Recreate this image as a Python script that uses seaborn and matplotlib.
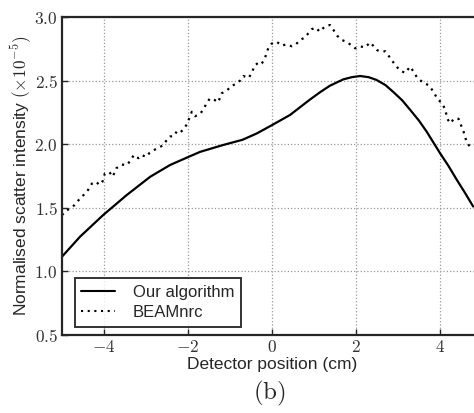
import pandas as pd
import seaborn as sns
import matplotlib.pyplot as plt

# Our algorithm (smooth curve)
algo_x = [-5.0, -4.57, -4.02, -3.46, -2.90, -2.43, -1.99, -1.71, -1.16, -0.7, -0.36, 0.0, 0.43,
          0.90, 1.15, 1.38, 1.70, 1.90, 2.10, 2.30, 2.49, 2.70, 2.89, 3.10, 3.29, 3.50, 3.68, 4.0,
          4.20, 4.40, 4.60, 4.79]
algo_y = [1.116, 1.273, 1.443, 1.60, 1.744, 1.836, 1.90, 1.94, 1.994, 2.035, 2.085, 2.15, 2.23,
          2.35, 2.41, 2.46, 2.51, 2.527, 2.536, 2.527, 2.505, 2.465, 2.41, 2.345, 2.27, 2.185, 2.10,
          1.93, 1.83, 1.72, 1.615, 1.51]

# BEAMnrc (noisy Monte Carlo)
beam_x = [-5.0, -4.89, -4.77, -4.65, -4.56, -4.45, -4.37, -4.29, -4.19, -4.11, -4.03, -3.98, -3.87,
          -3.79, -3.71, -3.58, -3.46, -3.36, -3.29, -3.18, -3.10, -3.0, -2.92, -2.83, -2.72, -2.60,
          -2.51, -2.43, -2.33, -2.27, -2.19, -2.10, -2.02, -1.91, -1.83, -1.71, -1.64, -1.56, -1.48,
          -1.38, -1.28, -1.20, -1.08, -0.96, -0.88, -0.76, -0.68, -0.56, -0.48, -0.42, -0.33, -0.25,
          -0.17, -0.09, -0.01, 0.11, 0.23, 0.35, 0.47, 0.57, 0.67, 0.79, 0.86, 0.95, 1.05, 1.13,
          1.21, 1.29, 1.38, 1.46, 1.55, 1.66, 1.76, 1.86, 1.98, 2.10, 2.21, 2.34, 2.50, 2.57, 2.70,
          2.82, 2.94, 3.05, 3.17, 3.29, 3.37, 3.45, 3.61, 3.73, 3.85, 3.93, 4.05, 4.13, 4.17, 4.25,
          4.33, 4.44, 4.56, 4.64, 4.72, 4.81]
beam_y = [1.443, 1.48, 1.50, 1.54, 1.58, 1.61, 1.645, 1.69, 1.705, 1.68, 1.71, 1.77, 1.78,
          1.745, 1.81, 1.84, 1.835, 1.875, 1.915, 1.89, 1.915, 1.90, 1.93, 1.95, 1.97, 1.99,
          2.03, 2.06, 2.065, 2.10, 2.09, 2.12, 2.16, 2.255, 2.22, 2.24, 2.27, 2.32, 2.36,
          2.35, 2.33, 2.40, 2.42, 2.46, 2.47, 2.50, 2.536, 2.52, 2.56, 2.615, 2.64, 2.63,
          2.675, 2.754, 2.79, 2.806, 2.775, 2.785, 2.77, 2.785, 2.82, 2.84, 2.87, 2.905, 2.916, 2.885,
          2.91, 2.93, 2.937, 2.90, 2.853, 2.82, 2.806, 2.785, 2.754, 2.77, 2.76, 2.80, 2.74, 2.73, 2.73,
          2.675, 2.62, 2.58, 2.56, 2.61, 2.57, 2.526, 2.48, 2.465, 2.41, 2.36, 2.32, 2.27, 2.20, 2.165,
          2.20, 2.20, 2.10, 2.01, 1.98, 1.97]

xticks = [-4, -2, 0, 2, 4]
xtick_labels = ["$-4$", "$-2$", "$0$", "$2$", "$4$"]
yticks = [0.5, 1.0, 1.5, 2.0, 2.5, 3.0]
ytick_labels = ["$0.5$", "$1.0$", "$1.5$", "$2.0$", "$2.5$", "$3.0$"]

df = pd.concat([
    pd.DataFrame({"x": algo_x, "y": algo_y, "series": "Our algorithm"}),
    pd.DataFrame({"x": beam_x, "y": beam_y, "series": "BEAMnrc"}),
], ignore_index=True)

sns.set_style("ticks")
plt.rcParams["font.family"] = ["Liberation Sans", "DejaVu Sans"]
plt.rcParams["mathtext.fontset"] = "cm"

fig = plt.figure(figsize=(4.74, 4.13), dpi=100)
# axes run past the right edge of the figure, as in the reference
ax = fig.add_axes([62 / 474, 1 - 335 / 413, 420 / 474, 318 / 413])

sns.lineplot(data=df, x="x", y="y", hue="series", style="series",
             palette={"Our algorithm": "black", "BEAMnrc": "black"},
             dashes={"Our algorithm": "", "BEAMnrc": (1, 2.2)},
             linewidth=1.6, sort=False, ax=ax, legend=True)

ax.set_xlim(-5, 5)
ax.set_ylim(0.5, 3.0)
ax.set_xticks(xticks)
ax.set_xticklabels(xtick_labels, fontsize=12.5, color="#333333")
ax.set_yticks(yticks)
ax.set_yticklabels(ytick_labels, fontsize=12.5, color="#333333")
ax.tick_params(direction="in", length=4, width=1, pad=3)
ax.grid(True, linestyle=":", color="#999999", linewidth=0.9)

for s in ax.spines.values():
    s.set_linewidth(1.6)

ax.set_xlabel("Detector position (cm)", fontsize=12.5, labelpad=1)
ax.set_ylabel(r"Normalised scatter intensity $(\times10^{-5})$", fontsize=12.5, labelpad=0)

leg = ax.legend(loc="lower left", fontsize=12, frameon=True, fancybox=False,
                handlelength=2.0, handletextpad=1.1, borderpad=0.4, labelspacing=0.3,
                bbox_to_anchor=(0.01, 0.0))
leg.set_title(None)
leg.get_frame().set_edgecolor("black")
leg.get_frame().set_linewidth(1.4)
for line in leg.get_lines():
    line.set_linewidth(1.5)

fig.text(269 / 474, 1 - 393 / 413, r"$\mathrm{(b)}$", fontsize=18, ha="center", va="center")

fig.savefig("out.png", dpi=100)
